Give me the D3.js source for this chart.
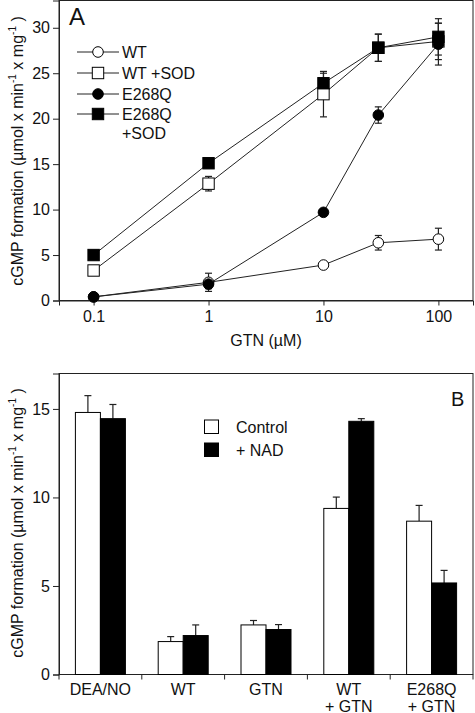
<!DOCTYPE html>
<html><head><meta charset="utf-8">
<script src="https://cdn.jsdelivr.net/npm/d3@7"></script>
<style>
html,body{margin:0;padding:0;background:#fff;}
svg{display:block;font-family:"Liberation Sans",Arial,sans-serif;}
</style></head>
<body>
<svg id="chart" width="475" height="713"></svg>
<script>
// ---------- Panel A data ----------
const gtnConc = [0.1, 1, 10, 30, 100];
const seriesNames = ["WT", "WT +SOD", "E268Q", "E268Q +SOD"];
const wtVals      = [0.4, 2.0, 3.9, 6.35, 6.75];
const wtErr       = [0, 1.0, 0, 0.8, 1.2];
const wtSodVals   = [3.3, 12.85, 22.7, 27.8, 28.5];
const wtSodErr    = [0, 0.8, 2.5, 1.5, 2.0];
const e268qVals   = [0.4, 1.8, 9.7, 20.4, 28.2];
const e268qErr    = [0.2, 0.5, 0, 0.9, 2.3];
const e268qSodVals= [5.0, 15.1, 23.9, 27.8, 29.0];
const e268qSodErr = [0, 0, 1.1, 1.5, 2.0];
const xTicksA = [0.1, 1, 10, 100];
const yTicksA = [0, 5, 10, 15, 20, 25, 30];

// ---------- Panel B data ----------
const categoriesB = [["DEA/NO"], ["WT"], ["GTN"], ["WT", "+ GTN"], ["E268Q", "+ GTN"]];
const controlVals = [14.8, 1.86, 2.8, 9.38, 8.66];
const controlErr  = [0.95, 0.28, 0.25, 0.64, 0.89];
const nadVals     = [14.45, 2.2, 2.54, 14.3, 5.17];
const nadErr      = [0.8, 0.6, 0.28, 0.15, 0.71];
const groupNamesB = ["Control", "+ NAD"];
const yTicksB = [0, 5, 10, 15];

const svg = d3.select("#chart");
const FONT = 16;
const lineColor = "#222";

// ================= Panel A =================
const A = {left: 59, right: 473, top: 0.5, bottom: 300.5};
const xA = d3.scaleLog().domain([0.05, 200]).range([A.left, A.right]);
const yA = d3.scaleLinear().domain([0, 33]).range([A.bottom, A.top]);

const gA = svg.append("g");
gA.append("rect").attr("x", A.left).attr("y", A.top).attr("width", A.right - A.left).attr("height", A.bottom - A.top)
  .attr("fill", "none").attr("stroke", lineColor).attr("stroke-width", 1);

const axA_x = gA.append("g").attr("transform", `translate(0,${A.bottom})`)
  .call(d3.axisBottom(xA).tickValues(xTicksA).tickFormat(d => String(d)).tickSize(5).tickPadding(5));
const axA_y = gA.append("g").attr("transform", `translate(${A.left},0)`)
  .call(d3.axisLeft(yA).tickValues(yTicksA).tickSize(6).tickPadding(3));
[axA_x, axA_y].forEach(ax => {
  ax.attr("font-family", null);
  ax.select(".domain").attr("stroke", lineColor);
  ax.selectAll(".tick line").attr("stroke", lineColor);
  ax.selectAll("text").attr("font-size", FONT).attr("fill", "#111");
});

gA.append("text").attr("x", 266).attr("y", 346).attr("text-anchor", "middle").attr("font-size", FONT).attr("fill", "#111")
  .text("GTN (µM)");
gA.append("text").attr("x", 69).attr("y", 25).attr("font-size", 24).attr("fill", "#111").text("A");

const seriesA = [
  {name: "WT", vals: wtVals, err: wtErr, shape: "circle", fill: "#fff"},
  {name: "WT +SOD", vals: wtSodVals, err: wtSodErr, shape: "square", fill: "#fff"},
  {name: "E268Q", vals: e268qVals, err: e268qErr, shape: "circle", fill: "#000"},
  {name: "E268Q +SOD", vals: e268qSodVals, err: e268qSodErr, shape: "square", fill: "#000"}
];

const line = d3.line().x(d => xA(d[0])).y(d => yA(d[1]));
seriesA.forEach(s => {
  const pts = gtnConc.map((c, i) => [c, s.vals[i], s.err[i]]);
  gA.append("path").attr("d", line(pts)).attr("fill", "none").attr("stroke", lineColor).attr("stroke-width", 1);
  pts.filter(p => p[2] > 0).forEach(p => {
    const x = xA(p[0]);
    gA.append("line").attr("x1", x).attr("x2", x).attr("y1", yA(p[1] - p[2])).attr("y2", yA(p[1] + p[2]))
      .attr("stroke", lineColor).attr("stroke-width", 1.2);
    [p[1] - p[2], p[1] + p[2]].forEach(v => {
      gA.append("line").attr("x1", x - 3.5).attr("x2", x + 3.5).attr("y1", yA(v)).attr("y2", yA(v))
        .attr("stroke", lineColor).attr("stroke-width", 1.2);
    });
  });
});
function marker(g, shape, fill, x, y) {
  if (shape === "circle") {
    g.append("circle").attr("cx", x).attr("cy", y).attr("r", 5.3).attr("fill", fill).attr("stroke", "#000").attr("stroke-width", 1);
  } else {
    g.append("rect").attr("x", x - 5.7).attr("y", y - 5.7).attr("width", 11.4).attr("height", 11.4)
      .attr("fill", fill).attr("stroke", "#000").attr("stroke-width", 1);
  }
}
seriesA.forEach(s => {
  gtnConc.forEach((c, i) => marker(gA, s.shape, s.fill, xA(c), yA(s.vals[i])));
});

// legend A
const legA = gA.append("g");
const legRows = [52, 73, 94, 114];
seriesA.forEach((s, i) => {
  const y = legRows[i];
  legA.append("line").attr("x1", 77).attr("x2", 119).attr("y1", y).attr("y2", y).attr("stroke", lineColor).attr("stroke-width", 1);
  marker(legA, s.shape, s.fill, 98, y);
  const t = legA.append("text").attr("x", 122).attr("y", y + 6).attr("font-size", FONT).attr("fill", "#111");
  if (s.name === "E268Q +SOD") {
    t.text("E268Q");
    legA.append("text").attr("x", 122).attr("y", y + 25).attr("font-size", FONT).attr("fill", "#111").text("+SOD");
  } else {
    t.text(s.name);
  }
});

// ================= Panel B =================
const B = {left: 59, right: 473, top: 373.5, bottom: 674.5};
const xB = d3.scaleBand().domain(d3.range(categoriesB.length)).range([B.left, B.right]).paddingInner(0).paddingOuter(0);
const yB = d3.scaleLinear().domain([0, 17]).range([B.bottom, B.top]);
const barW = 25;

const gB = svg.append("g");
gB.append("rect").attr("x", B.left).attr("y", B.top).attr("width", B.right - B.left).attr("height", B.bottom - B.top)
  .attr("fill", "none").attr("stroke", lineColor).attr("stroke-width", 1);

const axB_y = gB.append("g").attr("transform", `translate(${B.left},0)`)
  .call(d3.axisLeft(yB).tickValues(yTicksB).tickSize(6).tickPadding(3));
axB_y.attr("font-family", null);
axB_y.select(".domain").attr("stroke", lineColor);
axB_y.selectAll(".tick line").attr("stroke", lineColor);
axB_y.selectAll("text").attr("font-size", FONT).attr("fill", "#111");

// x axis with ticks at band boundaries
const bounds = d3.range(categoriesB.length + 1).map(i => B.left + i * xB.bandwidth());
gB.append("line").attr("x1", B.left).attr("x2", B.right).attr("y1", B.bottom).attr("y2", B.bottom).attr("stroke", lineColor);
bounds.forEach(x => gB.append("line").attr("x1", x).attr("x2", x).attr("y1", B.bottom).attr("y2", B.bottom + 5).attr("stroke", lineColor));
categoriesB.forEach((lab, i) => {
  const cx = xB(i) + xB.bandwidth() / 2;
  lab.forEach((l, j) => {
    gB.append("text").attr("x", cx).attr("y", 695 + j * 16.5).attr("text-anchor", "middle").attr("font-size", FONT).attr("fill", "#111").text(l);
  });
});

const barSeries = [
  {vals: controlVals, err: controlErr, fill: "#fff", off: -barW},
  {vals: nadVals, err: nadErr, fill: "#000", off: 0}
];
barSeries.forEach(s => {
  categoriesB.forEach((c, i) => {
    const cx = xB(i) + xB.bandwidth() / 2;
    const x0 = cx + s.off;
    const xm = x0 + barW / 2;
    gB.append("line").attr("x1", xm).attr("x2", xm).attr("y1", yB(s.vals[i])).attr("y2", yB(s.vals[i] + s.err[i]))
      .attr("stroke", lineColor).attr("stroke-width", 1.2);
    gB.append("line").attr("x1", xm - 3.5).attr("x2", xm + 3.5).attr("y1", yB(s.vals[i] + s.err[i])).attr("y2", yB(s.vals[i] + s.err[i]))
      .attr("stroke", lineColor).attr("stroke-width", 1.2);
    gB.append("rect").attr("x", x0).attr("y", yB(s.vals[i])).attr("width", barW).attr("height", yB(0) - yB(s.vals[i]))
      .attr("fill", s.fill).attr("stroke", "#000").attr("stroke-width", 1);
  });
});

// legend B
[{y: 420, fill: "#fff"}, {y: 443, fill: "#000"}].forEach((l, i) => {
  gB.append("rect").attr("x", 204.5).attr("y", l.y).attr("width", 14).attr("height", 13.5)
    .attr("fill", l.fill).attr("stroke", "#000").attr("stroke-width", 1);
  gB.append("text").attr("x", 236).attr("y", l.y + 12.5).attr("font-size", FONT).attr("fill", "#111").text(groupNamesB[i]);
});
gB.append("text").attr("x", 451).attr("y", 406).attr("font-size", 20).attr("fill", "#111").text("B");

// ---------- y labels ----------
function yLabel(cy) {
  const t = svg.append("text").attr("transform", `translate(23,${cy}) rotate(-90)`).attr("text-anchor", "middle")
    .attr("font-size", FONT).attr("fill", "#111");
  t.append("tspan").text("cGMP formation (µmol x min");
  t.append("tspan").attr("font-size", 10).attr("dy", -7).text("-1");
  t.append("tspan").attr("dy", 7).text(" x mg");
  t.append("tspan").attr("font-size", 10).attr("dy", -7).text("-1");
  t.append("tspan").attr("dy", 7).text(" )");
}
yLabel(151);
yLabel(523);
</script>
</body></html>
